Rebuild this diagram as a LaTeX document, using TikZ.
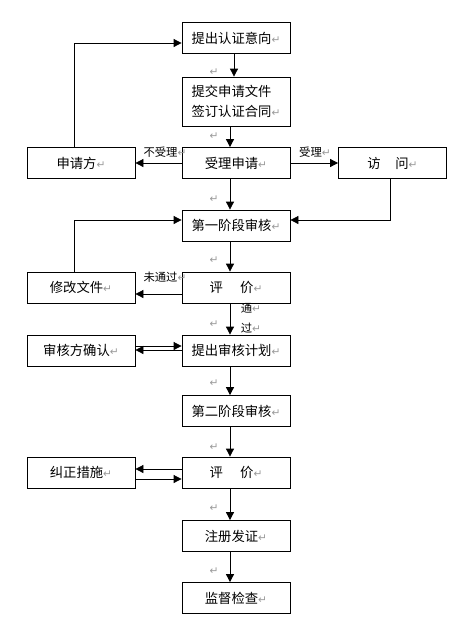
\documentclass[tikz,border=0pt]{standalone}
\usepackage{fontspec}
\setmainfont{Noto Sans CJK SC}
\newfontfamily\markfont{DejaVu Sans}
\usetikzlibrary{arrows.meta}
\newcommand{\pmark}{{\color{black!40}\markfont\footnotesize ↵}}
\tikzstyle{flow}=[-{Triangle[length=6pt,width=6pt]}, draw=black, line width=0.6pt]
\tikzstyle{box}=[draw, line width=0.6pt, minimum width=81pt, minimum height=23.25pt, inner sep=0pt, font=\fontsize{10}{12}\selectfont]
\tikzstyle{tall}=[box, minimum height=36.75pt, align=left, font=\fontsize{10}{14.5}\selectfont]
\tikzstyle{lbl}=[inner sep=1pt, font=\fontsize{8.5}{10}\selectfont]
\tikzstyle{pm}=[inner sep=0pt]

\begin{document}
\begin{tikzpicture}[x=0.75pt, y=-0.75pt]
				\useasboundingbox (0,0) rectangle (457,626);
				\coordinate (axis) at (230,0);

				%The main column
				\draw (236,38) node[box] (intent) {提出认证意向\pmark};
				\draw (236,101.5) node[tall] (apply) {提交申请文件\\签订认证合同\pmark};
				\draw (236,163) node[box] (accept) {受理申请\pmark};
				\draw (236,225.5) node[box] (stage1) {第一阶段审核\pmark};
				\draw (236,287.5) node[box] (eval1) {评\hspace{1.3em}价\pmark};
				\draw (236,350.5) node[box] (plan) {提出审核计划\pmark};
				\draw (236,411) node[box] (stage2) {第二阶段审核\pmark};
				\draw (236,472.5) node[box] (eval2) {评\hspace{1.3em}价\pmark};
				\draw (236,536) node[box] (reg) {注册发证\pmark};
				\draw (236,598) node[box] (watch) {监督检查\pmark};

				%The side boxes
				\draw (81,163) node[box] (client) {申请方\pmark};
				\draw (392.5,163) node[box] (visit) {访\hspace{1.1em}问\pmark};
				\draw (81,287.5) node[box] (revise) {修改文件\pmark};
				\draw (81,350.5) node[box] (confirm) {审核方确认\pmark};
				\draw (81,472.5) node[box] (fix) {纠正措施\pmark};

				%The labels
				\draw (165,152) node[lbl] (no1) {不受理\pmark};
				\draw (315,152) node[lbl] (yes1) {受理\pmark};
				\draw (165,277) node[lbl] (no2) {未通过\pmark};
				\draw (251,308) node[lbl] (pass1) {通\pmark};
				\draw (251,328) node[lbl] (pass2) {过\pmark};

				%The paragraph marks
				\foreach \y in {72,136,199,260,324,383,447,508,571}
					\draw (214,\y) node[pm] {\pmark};

				%The main flow
				\draw[flow] (intent.south -| 234,0) -- (apply.north -| 234,0);
				\draw[flow] (apply.south -| axis) -- (accept.north -| axis);
				\draw[flow] (accept.south -| axis) -- (stage1.north -| axis);
				\draw[flow] (stage1.south -| axis) -- (eval1.north -| axis);
				\draw[flow] (eval1.south -| axis) -- (plan.north -| axis);
				\draw[flow] (plan.south -| axis) -- (stage2.north -| axis);
				\draw[flow] (stage2.south -| axis) -- (eval2.north -| axis);
				\draw[flow] (eval2.south -| axis) -- (reg.north -| axis);
				\draw[flow] (reg.south -| axis) -- (watch.north -| axis);

				%The side flows
				\draw[flow] (accept.west) -- (client.east);
				\draw[flow] (accept.east) -- (visit.east -| visit.west);
				\draw[flow] (client.north -| 74,0) |- (intent.west |- 0,43);
				\draw[flow] (visit.south -| 390,0) |- (stage1.east |- 0,220);
				\draw[flow] (eval1.west |- 0,294) -- (revise.east |- 0,294);
				\draw[flow] (revise.north -| 74,0) |- (stage1.west |- 0,220);
				\draw[flow] (confirm.east |- 0,346) -- (plan.west |- 0,346);
				\draw[flow] (plan.west |- 0,350) -- (confirm.east |- 0,350);
				\draw[flow] (eval2.west |- 0,469) -- (fix.east |- 0,469);
				\draw[flow] (fix.east |- 0,479) -- (eval2.west |- 0,479);
			\end{tikzpicture}
\end{document}
